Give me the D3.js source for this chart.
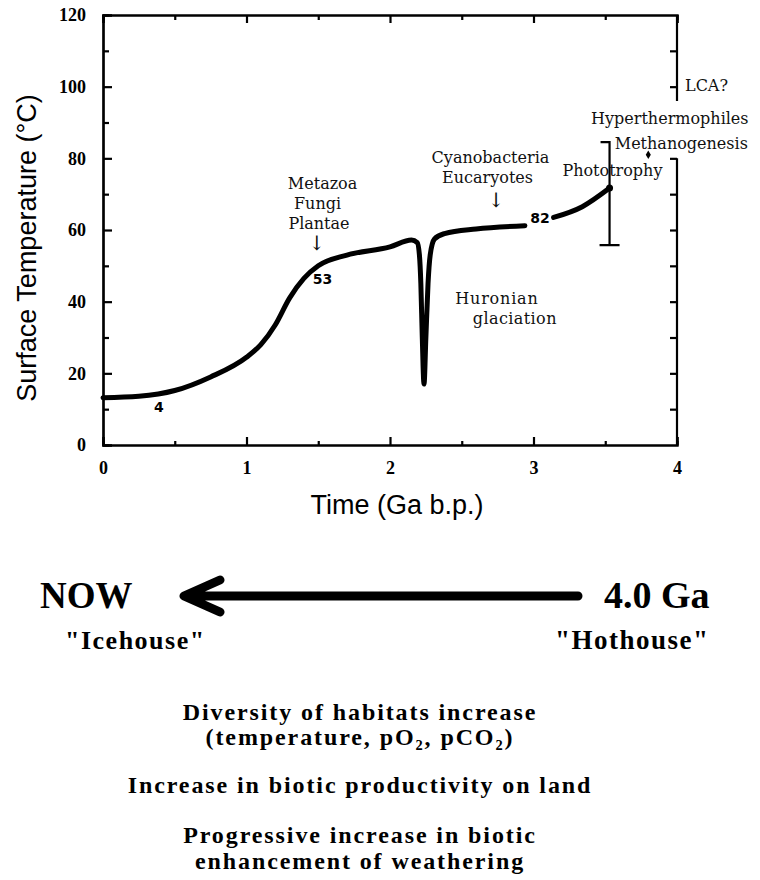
<!DOCTYPE html>
<html>
<head>
<meta charset="utf-8">
<script src="https://cdn.jsdelivr.net/npm/d3@7"></script>
<style>
  body { margin: 0; background: #fff; }
  svg { display: block; }
  .tick text { font-family: "Liberation Serif", serif; font-weight: bold; font-size: 18px; fill: #000; }
  .ann { font-family: "DejaVu Serif", serif; font-size: 16px; fill: #111; }
  .num { font-family: "DejaVu Sans", sans-serif; font-weight: bold; font-size: 14px; fill: #000; }
  .big { font-family: "Liberation Serif", serif; font-weight: bold; fill: #000; }
</style>
</head>
<body>
<svg id="chart" width="760" height="880"></svg>
<script>
// surface temperature curve (Ga before present, deg C); null = break in line
var timeGa = [0, 0.25, 0.5, 0.75, 1.0, 1.1, 1.2, 1.3, 1.4, 1.5, 1.7, 2.0, 2.15, 2.19, 2.205, 2.215, 2.225, 2.237, 2.25, 2.265, 2.28, 2.31, 2.38, 2.6, 2.94, 3.0, 3.14, 3.34, 3.53];
var tempC  = [13.2, 13.6, 15.2, 19, 24.5, 28, 33.5, 41, 46.5, 50, 53, 55.3, 57.2, 56.5, 53, 45, 30, 17, 30, 45, 53, 57.5, 59, 60.3, 61.2, null, 63.5, 66.5, 71.7];

// error bar near 3.55 Ga
var errX = 3.53, errLow = 55.8, errHigh = 84.5, errMid = 71.7;
var diamond = [3.8, 81];

var xTicks = [0, 1, 2, 3, 4];
var xMinor = [0.5, 1.5, 2.5, 3.5];
var yTicks = [0, 20, 40, 60, 80, 100, 120];
var yMinor = [10, 30, 50, 70, 90, 110];
var rightUpper = [100, 110];
var rightLower = [10, 20, 30, 40, 50, 60, 70, 80];

var labels = [
  {t: 1.53, v: 71.4, text: "Metazoa"},
  {t: 1.495, v: 65.9, text: "Fungi"},
  {t: 1.505, v: 60.3, text: "Plantae"},
  {t: 2.70, v: 78.7, text: "Cyanobacteria"},
  {t: 2.68, v: 73.1, text: "Eucaryotes"},
  {t: 3.55, v: 75.1, text: "Phototrophy"},
  {t: 3.95, v: 89.6, text: "Hyperthermophiles"},
  {t: 4.03, v: 82.6, text: "Methanogenesis"},
  {t: 2.745, v: 39.4, text: "Huronian", ls: 0.8},
  {t: 2.87, v: 33.8, text: "glaciation", ls: 0.4}
];
var curveNums = [{t: 0.39, v: 9.2, text: "4"}, {t: 1.53, v: 45.0, text: "53"}, {t: 3.045, v: 62.0, text: "82"}];
var arrows = [{t: 1.49, v: 54.3}, {t: 2.74, v: 66.5}];

var bottomLines = [
  {y: 720, text: "Diversity of habitats increase"},
  {y: 745, text: "(temperature, pO\u2082, pCO\u2082)"},
  {y: 793, text: "Increase in biotic productivity on land"},
  {y: 843, text: "Progressive increase in biotic"},
  {y: 869, text: "enhancement of weathering"}
];

var svg = d3.select("#chart");
var mLeft = 103, mRight = 677, mTop = 15, mBottom = 445;

var x = d3.scaleLinear().domain([0, 4]).range([mLeft, mRight]);
var y = d3.scaleLinear().domain([0, 120]).range([mBottom, mTop]);

var g = svg.append("g");

// bottom axis
g.append("g").attr("transform", "translate(0," + mBottom + ")")
  .call(d3.axisBottom(x).tickValues(xTicks).tickSize(-8).tickPadding(16).tickFormat(d3.format("d")));
g.append("g").attr("transform", "translate(0," + mBottom + ")")
  .call(d3.axisBottom(x).tickValues(xMinor).tickSize(-4).tickFormat(""));
// top axis
g.append("g").attr("transform", "translate(0," + mTop + ")")
  .call(d3.axisTop(x).tickValues(xTicks).tickSize(-8).tickFormat(""));
g.append("g").attr("transform", "translate(0," + mTop + ")")
  .call(d3.axisTop(x).tickValues(xMinor).tickSize(-5).tickFormat(""));
// left axis
g.append("g").attr("transform", "translate(" + mLeft + ",0)")
  .call(d3.axisLeft(y).tickValues(yTicks).tickSize(-9).tickPadding(17).tickFormat(d3.format("d")));
g.append("g").attr("transform", "translate(" + mLeft + ",0)")
  .call(d3.axisLeft(y).tickValues(yMinor).tickSize(-6).tickFormat(""));
// right axis, broken in two parts
var ru = g.append("g").attr("transform", "translate(" + mRight + ",0)")
  .call(d3.axisRight(y).tickValues(rightUpper).tickSize(-7).tickSizeOuter(0).tickFormat(""));
ru.select(".domain").attr("d", "M0," + y(120) + "V" + y(96));
var rl = g.append("g").attr("transform", "translate(" + mRight + ",0)")
  .call(d3.axisRight(y).tickValues(rightLower).tickSize(-7).tickSizeOuter(0).tickFormat(""));
rl.select(".domain").attr("d", "M0," + y(80) + "V" + y(0));

g.selectAll(".domain").attr("stroke", "#000").attr("stroke-width", 2.2);
g.selectAll(".tick line").attr("stroke", "#000").attr("stroke-width", 2.2);

// curve
var pts = timeGa.map(function(t, i) { return {t: t, v: tempC[i]}; });
var line = d3.line()
  .defined(function(d) { return d.v != null; })
  .x(function(d) { return x(d.t); })
  .y(function(d) { return y(d.v); })
  .curve(d3.curveMonotoneX);
g.append("path").datum(pts)
  .attr("d", line)
  .attr("fill", "none").attr("stroke", "#000")
  .attr("stroke-width", 5).attr("stroke-linecap", "round");

// error bar
g.append("path")
  .attr("d", "M" + (x(errX) - 9) + "," + y(errHigh) + "H" + x(errX) + "V" + y(errLow) +
             "M" + (x(errX) - 10) + "," + y(errLow) + "H" + (x(errX) + 10))
  .attr("fill", "none").attr("stroke", "#000").attr("stroke-width", 2.2);
g.append("circle").attr("cx", x(errX)).attr("cy", y(errMid)).attr("r", 3.5).attr("fill", "#000");
g.append("path")
  .attr("d", d3.symbol().type(d3.symbolDiamond).size(22))
  .attr("transform", "translate(" + x(diamond[0]) + "," + y(diamond[1]) + ")")
  .attr("fill", "#000");

// annotations
g.selectAll(".ann").data(labels).enter().append("text")
  .attr("class", "ann")
  .attr("x", function(d) { return x(d.t); })
  .attr("y", function(d) { return y(d.v); })
  .attr("text-anchor", "middle")
  .attr("letter-spacing", function(d) { return d.ls || 0; })
  .text(function(d) { return d.text; });
g.append("text").attr("class", "ann").attr("x", 685).attr("y", y(98.8)).text("LCA?");

g.selectAll(".num").data(curveNums).enter().append("text")
  .attr("class", "num")
  .attr("x", function(d) { return x(d.t); })
  .attr("y", function(d) { return y(d.v); })
  .attr("text-anchor", "middle")
  .text(function(d) { return d.text; });

g.selectAll(".arr").data(arrows).enter().append("text")
  .attr("class", "ann")
  .attr("x", function(d) { return x(d.t); })
  .attr("y", function(d) { return y(d.v); })
  .attr("text-anchor", "middle")
  .style("font-size", "20px")
  .text("\u2193");

// axis titles
svg.append("text")
  .attr("transform", "translate(36,248) rotate(-90)")
  .attr("text-anchor", "middle")
  .style("font-family", "Liberation Sans, Arial, sans-serif").style("font-size", "27px")
  .text("Surface Temperature (\u00B0C)");
svg.append("text")
  .attr("x", 397).attr("y", 514)
  .attr("text-anchor", "middle")
  .style("font-family", "Liberation Sans, Arial, sans-serif").style("font-size", "27px")
  .text("Time (Ga b.p.)");

// lower panel
svg.append("text").attr("class", "big").attr("x", 40).attr("y", 608).style("font-size", "37px").text("NOW");
svg.append("text").attr("class", "big").attr("x", 604).attr("y", 608).style("font-size", "38px").text("4.0 Ga");
svg.append("text").attr("class", "big").attr("x", 65).attr("y", 649).attr("letter-spacing", 1.5).style("font-size", "26px").text("\"Icehouse\"");
svg.append("text").attr("class", "big").attr("x", 555).attr("y", 649).attr("letter-spacing", 1.5).style("font-size", "27px").text("\"Hothouse\"");
svg.append("path")
  .attr("d", "M578,596H186M220,580L184,596L220,612")
  .attr("fill", "none").attr("stroke", "#000")
  .attr("stroke-width", 9).attr("stroke-linecap", "round").attr("stroke-linejoin", "round");

svg.selectAll(".bl").data(bottomLines).enter().append("text")
  .attr("class", "big")
  .attr("x", 360).attr("y", function(d) { return d.y; })
  .attr("text-anchor", "middle")
  .attr("letter-spacing", 1.9)
  .style("font-size", "24px")
  .text(function(d) { return d.text; });
</script>
</body>
</html>
